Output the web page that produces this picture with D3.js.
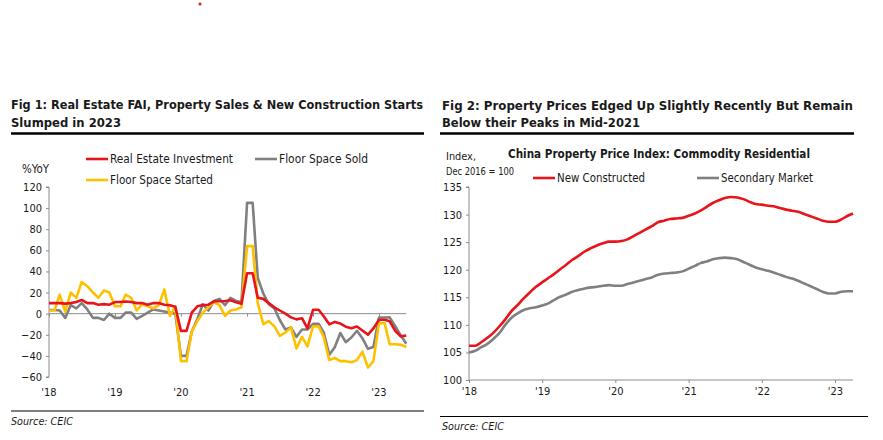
<!DOCTYPE html>
<html><head><meta charset="utf-8">
<script src="https://cdn.jsdelivr.net/npm/d3@7"></script>
<style>
html,body{margin:0;padding:0;background:#fff;}
svg text{font-family:"DejaVu Sans Condensed","DejaVu Sans",sans-serif;font-stretch:condensed;fill:#1a1a1a;}
</style></head>
<body><svg id="c" width="883" height="440"></svg>
<script>
// ---------- Fig 1 data (monthly %YoY, Jan 2018 - Jun 2023) ----------
const fig1Start = [2018, 0];
const realEstateInvestment = [
  10,10,10,9.5,10,11,13,10,10,8.5,9,8.5,
  11,11,11.5,11,10,10,8.5,10,10,8.5,8,6.5,
  -16.3,-16.3,1,7,8.1,8.5,11.7,11.8,12,12.7,10.9,9.3,
  38.3,38.3,15,14,10,6,3,0,-3.5,-5.4,-4.3,-13.9,
  3.7,3.7,-2.4,-10.1,-7.8,-9.4,-12.3,-13.8,-12.1,-16.0,-19.9,-14,
  -5.7,-5.7,-7.2,-16.2,-21.5,-20.6];
const floorSpaceSold = [
  3.5,3.5,3,-4,8,5,10,4,-4,-4,-6,0,
  -4,-4,1,1,-5,-2,1,4,3,2,1,0,
  -40,-40,-17,-5,9,3,12,14,8,15,12,11,
  105,105,34,19,9,5,-6,-15,-13,-22,-15,-15,
  -9.6,-9.6,-17.7,-39,-31.8,-18.3,-27,-22.6,-16.2,-23.2,-33.3,-31.5,
  -3.6,-3.6,-3.5,-11.8,-20.5,-28.5];
const floorSpaceStarted = [
  3,3,18,2,20,15,30,26,20,15,22,20,
  7,7,18,15,3,9,7,5,8,23,-2,7,
  -45,-45,-17,-7,1,6,11,8,-2,3,4,6,
  64,64,10,-10,-7,-12,-21,-18,-13,-33,-22,-31,
  -12,-12,-22,-44,-42,-45,-45,-46,-44,-36,-51,-45,
  -9,-9,-29,-29,-29.5,-31.5];
const fig1YTicks = [120,100,80,60,40,20,0,-20,-40,-60];
const yearTicks = [2018,2019,2020,2021,2022,2023];

// ---------- Fig 2 data (index, Dec 2016 = 100, Jan 2018 - Apr 2023) ----------
const newConstructed = [
  106.2,106.2,106.8,107.6,108.5,109.7,111.0,112.5,113.6,114.8,115.9,116.9,
  117.7,118.5,119.2,120.1,120.9,121.8,122.5,123.3,123.9,124.4,124.8,125.1,
  125.1,125.2,125.5,126.1,126.7,127.3,127.9,128.6,128.9,129.2,129.3,129.4,
  129.8,130.2,130.7,131.4,132.1,132.6,133.0,133.2,133.1,132.8,132.3,131.9,
  131.8,131.6,131.5,131.2,130.9,130.7,130.5,130.1,129.7,129.3,128.9,128.7,
  128.7,129.1,129.7,130.2];
const secondaryMarket = [
  105.0,105.3,105.9,106.5,107.4,108.5,110.0,111.3,112.1,112.7,113.0,113.2,
  113.5,113.9,114.5,115.1,115.5,116.0,116.3,116.6,116.8,116.9,117.1,117.2,
  117.1,117.1,117.4,117.7,118.0,118.3,118.6,119.1,119.3,119.4,119.5,119.7,
  120.2,120.7,121.2,121.5,121.9,122.1,122.2,122.1,121.9,121.4,120.9,120.4,
  120.1,119.8,119.5,119.1,118.7,118.4,118.0,117.5,117.0,116.5,116.0,115.7,
  115.7,116.0,116.1,116.1];
const fig2YTicks = [135,130,125,120,115,110,105,100];

const RED = "#e8141c", GRAY = "#808080", GOLD = "#ffc000", AXIS = "#8c8c8c";
const svg = d3.select("#c");
const monthDate = i => new Date(2018, i, 1);
const fmtYear = d => "'" + String(d.getFullYear()).slice(2);

// red dot artifact at top
svg.append("circle").attr("cx",200).attr("cy",4).attr("r",1.5).attr("fill",RED);

function txt(x, y, s, size, opts = {}) {
  const t = svg.append("text").attr("x", x).attr("y", y).text(s)
    .style("font-size", size + "px");
  if (opts.bold) t.style("font-weight", "bold");
  if (opts.italic) t.style("font-style", "italic");
  if (opts.len) t.attr("textLength", opts.len).attr("lengthAdjust", "spacingAndGlyphs");
  if (opts.anchor) t.attr("text-anchor", opts.anchor);
  return t;
}

// ---------- Fig 1 ----------
txt(11, 109, "Fig 1: Real Estate FAI, Property Sales & New Construction Starts", 13, {bold:true, len:412});
txt(11, 127, "Slumped in 2023", 13, {bold:true, len:110});
svg.append("line").attr("x1",11).attr("x2",424).attr("y1",133.5).attr("y2",133.5).attr("stroke","#000").attr("stroke-width",2.5);

const x1 = d3.scaleTime().domain([new Date(2018,0,1), new Date(2023,0,1)]).range([49, 379]);
const y1 = d3.scaleLinear().domain([-60, 120]).range([377, 187]);

txt(22, 173, "%YoY", 12, {len:27});
// y axis
const gy1 = svg.append("g").attr("transform","translate(49,0)")
  .call(d3.axisLeft(y1).tickValues(fig1YTicks).tickSize(3).tickPadding(4));
gy1.select(".domain").attr("stroke",AXIS).attr("d","M-3,187H0V377H-3");
gy1.selectAll(".tick line").attr("stroke",AXIS);
gy1.selectAll(".tick text").style("font-size","11px").attr("fill","#1a1a1a")
  .style("font-family",'"DejaVu Sans Condensed","DejaVu Sans",sans-serif');

// zero line with year ticks
const gx1 = svg.append("g").attr("transform",`translate(0,${y1(0)})`)
  .call(d3.axisBottom(x1).tickValues(yearTicks.map(y=>new Date(y,0,1))).tickSize(3).tickFormat(""));
gx1.select(".domain").attr("stroke",AXIS).attr("d",`M49,0H${x1(monthDate(65))}`);
gx1.selectAll(".tick line").attr("stroke",AXIS);
// year labels at bottom
yearTicks.forEach(yr => {
  svg.append("text").attr("x", x1(new Date(yr,0,1))).attr("y", 396)
    .attr("text-anchor","middle").style("font-size","11px").text(fmtYear(new Date(yr,0,1)));
});

const line1 = d3.line().x((d,i)=>x1(monthDate(i))).y(d=>y1(d));
[[floorSpaceSold,GRAY],[floorSpaceStarted,GOLD],[realEstateInvestment,RED]].forEach(([s,c])=>{
  svg.append("path").datum(s).attr("d",line1).attr("fill","none").attr("stroke",c)
    .attr("stroke-width",2.6).attr("stroke-linejoin","round");
});

// legend fig1
function legItem(x, y, color, label, len) {
  svg.append("line").attr("x1",x).attr("x2",x+22).attr("y1",y).attr("y2",y).attr("stroke",color).attr("stroke-width",2.6);
  txt(x+24, y+4, label, 12, {len});
}
legItem(86, 159, RED, "Real Estate Investment", 123);
legItem(255, 159, GRAY, "Floor Space Sold", 89);
legItem(86, 180, GOLD, "Floor Space Started", 103);

// source fig1
svg.append("line").attr("x1",11).attr("x2",424).attr("y1",411).attr("y2",411).attr("stroke","#000").attr("stroke-width",1.2);
txt(11, 425, "Source: CEIC", 10, {italic:true, len:62});

// ---------- Fig 2 ----------
txt(442, 110, "Fig 2: Property Prices Edged Up Slightly Recently But Remain", 13, {bold:true, len:411});
txt(442, 127, "Below their Peaks in Mid-2021", 13, {bold:true, len:198});
svg.append("line").attr("x1",440).attr("x2",854).attr("y1",133.5).attr("y2",133.5).attr("stroke","#000").attr("stroke-width",2.5);

txt(446, 160, "Index,", 11, {len:30});
txt(446, 174.5, "Dec 2016 = 100", 11, {len:68});
txt(508, 158, "China Property Price Index: Commodity Residential", 12.5, {bold:true, len:302});

const x2 = d3.scaleTime().domain([new Date(2018,0,1), new Date(2023,0,1)]).range([469, 835]);
const y2 = d3.scaleLinear().domain([100, 135]).range([380, 187]);

const gy2 = svg.append("g").attr("transform","translate(469,0)")
  .call(d3.axisLeft(y2).tickValues(fig2YTicks).tickSize(3).tickPadding(4));
gy2.select(".domain").attr("stroke",AXIS).attr("d","M-3,187H0V380");
gy2.selectAll(".tick line").attr("stroke",AXIS);
gy2.selectAll(".tick text").style("font-size","11px").attr("fill","#1a1a1a")
  .style("font-family",'"DejaVu Sans Condensed","DejaVu Sans",sans-serif');

const gx2 = svg.append("g").attr("transform","translate(0,380)")
  .call(d3.axisBottom(x2).tickValues(yearTicks.map(y=>new Date(y,0,1))).tickSize(3).tickPadding(4).tickFormat(fmtYear));
gx2.select(".domain").attr("stroke",AXIS).attr("d",`M469,0H${x2(monthDate(63))}`);
gx2.selectAll(".tick line").attr("stroke",AXIS);
gx2.selectAll(".tick text").style("font-size","11px").attr("fill","#1a1a1a").attr("y",7)
  .style("font-family",'"DejaVu Sans Condensed","DejaVu Sans",sans-serif');

const line2 = d3.line().x((d,i)=>x2(monthDate(i))).y(d=>y2(d)).curve(d3.curveMonotoneX);
[[secondaryMarket,GRAY],[newConstructed,RED]].forEach(([s,c])=>{
  svg.append("path").datum(s).attr("d",line2).attr("fill","none").attr("stroke",c)
    .attr("stroke-width",2.6).attr("stroke-linejoin","round");
});

legItem(533, 178, RED, "New Constructed", 88);
legItem(697, 178, GRAY, "Secondary Market", 92);

svg.append("line").attr("x1",440).attr("x2",868).attr("y1",416.5).attr("y2",416.5).attr("stroke","#000").attr("stroke-width",1.2);
txt(442, 430, "Source: CEIC", 10, {italic:true, len:62});
</script></body></html>
